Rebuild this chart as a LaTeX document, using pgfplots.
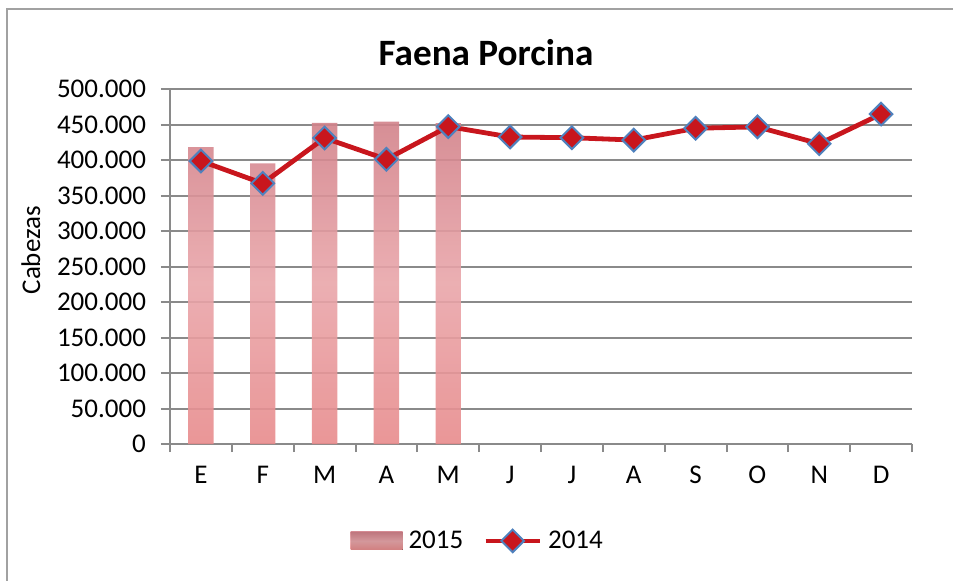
\documentclass[border=0pt]{standalone}
\usepackage{fontspec}
\setmainfont{Carlito}
\usepackage{pgfplots}
\pgfplotsset{compat=1.18}
\definecolor{gridgray}{HTML}{8A8A8A}
\definecolor{linered}{HTML}{C8161D}
\definecolor{mkblue}{HTML}{4F81BD}
\definecolor{bartop}{HTML}{D2828A}
\definecolor{barmid}{HTML}{E9A6AA}
\definecolor{barbot}{HTML}{E88B8C}
\begin{document}
\begin{tikzpicture}[x=1pt,y=1pt]
\useasboundingbox (-85,-68) rectangle (391.5,222);
\draw[gridgray!80, line width=1pt] (-81.5,-70) -- (-81.5,217.5) -- (395,217.5);
\node[font=\fontsize{18.6}{22}\selectfont\bfseries, anchor=base] at (158,189.5) {Faena Porcina};
\begin{axis}[
  at={(0pt,0pt)}, anchor=south west,
  scale only axis,
  width=371pt, height=177.5pt,
  xmin=0.5, xmax=12.5,
  ymin=0, ymax=500000,
  axis x line*=bottom, axis y line*=left,
  axis line style={gridgray, line width=1pt, -},
  xtick={1,...,12},
  xticklabels={E,F,M,A,M,J,J,A,S,O,N,D},
  minor xtick={0.5,1.5,...,12.5},
  major x tick style={draw=none},
  minor x tick style={gridgray, line width=1pt},
  minor tick length=4pt,
  ytick={0,50000,100000,150000,200000,250000,300000,350000,400000,450000,500000},
  yticklabels={0,50.000,100.000,150.000,200.000,250.000,300.000,350.000,400.000,450.000,500.000},
  major tick length=4.5pt,
  y tick style={gridgray, line width=1pt},
  tick align=outside,
  ymajorgrids,
  grid style={gridgray, line width=1pt},
  scaled y ticks=false,
  tick label style={font=\fontsize{13.5}{15}\selectfont, text=black},
  yticklabel style={xshift=-4pt},
  xticklabel style={yshift=-3pt},
  ylabel={Cabezas},
  every axis y label/.style={at={(rel axis cs:-0.175,0.546)}, rotate=90, anchor=base,
    font=\fontsize{13.5}{15}\selectfont},
  legend columns=2,
  legend style={draw=none, fill=none, at={(0.416,-0.273)}, anchor=center,
    font=\fontsize{13.5}{15}\selectfont, column sep=1pt,
    /tikz/every even column/.append style={column sep=8pt},
    nodes={inner xsep=2pt}},
]
\addplot[ybar, bar width=12.7pt, draw=none, fill opacity=0.9,
  top color=bartop, bottom color=barbot, middle color=barmid,
  legend image code/.code={\fill[top color=bartop, bottom color=barbot, middle color=barmid] (0pt,-4.5pt) rectangle (26pt,4.5pt);}]
  coordinates {(1,418000) (2,395300) (3,452400) (4,454000) (5,452000)};
\addlegendentry{2015}
\addplot[linered, line width=2.4pt, mark=square*, mark size=4pt,
  mark options={rotate=45, fill=linered, draw=mkblue, line width=1pt},
  legend image code/.code={\draw[linered, line width=2.4pt] (0pt,0pt) -- (27pt,0pt);
     \draw[fill=linered, draw=mkblue, line width=1pt, rotate around={45:(13.5pt,0pt)}] (9.5pt,-4pt) rectangle (17.5pt,4pt);}]
  coordinates {(1,398600) (2,367100) (3,431000) (4,401000) (5,447100) (6,432400) (7,431400) (8,428100) (9,444700) (10,446700) (11,422900) (12,464700)};
\addlegendentry{2014}
\end{axis}
\end{tikzpicture}
\end{document}
